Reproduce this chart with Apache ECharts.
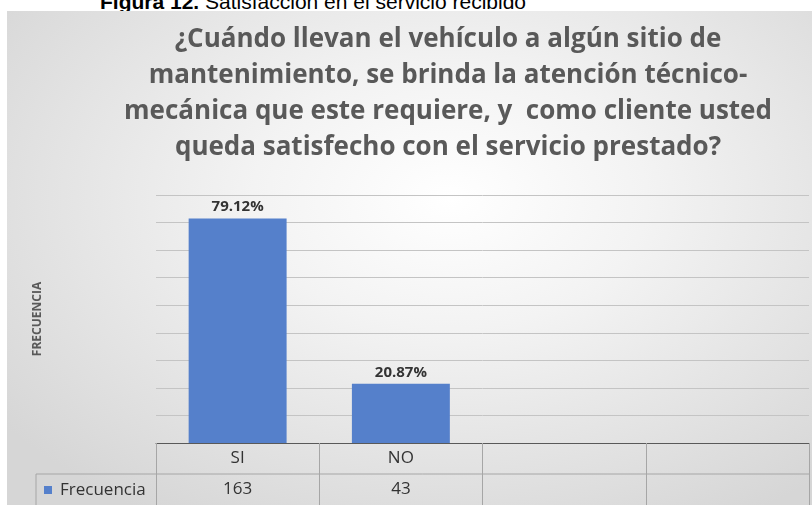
<!DOCTYPE html>
<html>
<head>
<meta charset="utf-8">
<script src="https://cdn.jsdelivr.net/npm/echarts@6/dist/echarts.min.js"></script>
<style>
  html, body { margin: 0; padding: 0; background: #fff; }
  .wrap { position: relative; width: 812px; height: 505px; overflow: hidden; }
  .caption {
    position: absolute; left: 100px; top: -9.5px;
    font-family: "Liberation Sans", Arial, sans-serif; font-size: 21px; line-height: 21px;
    color: #000; white-space: nowrap;
  }
  .panel {
    position: absolute; left: 7px; top: 11px; right: 0; bottom: 0;
    background: radial-gradient(ellipse 70% 75% at 55% 38%, #ffffff 0%, #f3f3f3 35%, #d6d6d6 100%);
  }
  #chart { position: absolute; left: 0; top: 0; width: 812px; height: 505px; }
</style>
</head>
<body>
<div class="wrap">
  <div class="caption"><b>Figura 12.</b> Satisfacción en el servicio recibido</div>
  <div class="panel"></div>
  <div id="chart"></div>
</div>
<script>
// datos
const categorias = ['SI', 'NO', '', '']
const frecuencia = [163, 43, null, null]
const porcentajes = ['79.12%', '20.87%', '', '']
const tituloLineas = [
  '¿Cuándo llevan el vehículo a algún sitio de',
  'mantenimiento, se brinda la atención técnico-',
  'mecánica que este requiere, y  como cliente usted',
  'queda satisfecho con el servicio prestado?'
]

const fuente = '"Open Sans", sans-serif'
const azul = '#5580cb'
const gris = '#595959'
const linea = '#a6a6a6'

// bordes de la tabla de datos (decoracion)
const tablaIzq = 36
const gridIzq = 156
const gridDer = 809
const ejeY = 443
const filaY = 474

const myChart = echarts.init(document.getElementById('chart'))

const option = {
  textStyle: { fontFamily: fuente },
  title: {
    text: tituloLineas.join('\n'),
    left: 443,
    top: 17,
    textAlign: 'center',
    textStyle: {
      fontFamily: fuente,
      fontSize: 26,
      fontWeight: 'bold',
      lineHeight: 36,
      color: gris
    }
  },
  legend: {
    data: ['Frecuencia'],
    left: 44,
    top: 480,
    padding: 0,
    itemWidth: 8,
    itemHeight: 8,
    icon: 'rect',
    textStyle: {
      fontFamily: fuente,
      fontSize: 17,
      lineHeight: 20,
      color: '#333',
      padding: [0, 0, 0, 3]
    }
  },
  grid: {
    left: gridIzq,
    right: 812 - gridDer,
    top: 195,
    bottom: 505 - ejeY
  },
  xAxis: {
    type: 'category',
    data: categorias,
    axisLine: { show: true, lineStyle: { color: gris, width: 1 } },
    axisTick: {
      show: true,
      interval: 0,
      length: 62,
      lineStyle: { color: linea }
    },
    axisLabel: {
      interval: 0,
      margin: 0,
      formatter(value, idx) {
        const v = frecuencia[idx] == null ? '' : frecuencia[idx]
        return '{a|' + value + '}\n{a|' + v + '}'
      },
      rich: {
        a: { fontSize: 17, lineHeight: 31, color: '#333', fontFamily: fuente }
      }
    }
  },
  yAxis: {
    type: 'value',
    min: 0,
    max: 180,
    interval: 20,
    name: 'FRECUENCIA',
    nameLocation: 'middle',
    nameRotate: 90,
    nameGap: 112,
    nameTextStyle: { fontFamily: fuente, fontSize: 12, fontWeight: 'bold', color: gris },
    axisLabel: { show: false },
    axisLine: { show: false },
    axisTick: { show: false },
    splitLine: { lineStyle: { color: '#c4c4c4', width: 1 } }
  },
  series: [{
    name: 'Frecuencia',
    type: 'bar',
    data: frecuencia,
    barCategoryGap: '40%',
    itemStyle: { color: azul },
    label: {
      show: true,
      position: 'top',
      distance: 4,
      formatter: (p) => porcentajes[p.dataIndex],
      fontFamily: fuente,
      fontSize: 15,
      fontWeight: 'bold',
      color: '#333'
    }
  }],
  graphic: [
    {
      type: 'line',
      shape: { x1: tablaIzq, y1: filaY, x2: gridDer, y2: filaY },
      style: { stroke: linea, lineWidth: 1 }
    },
    {
      type: 'line',
      shape: { x1: tablaIzq, y1: filaY, x2: tablaIzq, y2: 505 },
      style: { stroke: linea, lineWidth: 1 }
    }
  ]
}

myChart.setOption(option)
</script>
</body>
</html>
